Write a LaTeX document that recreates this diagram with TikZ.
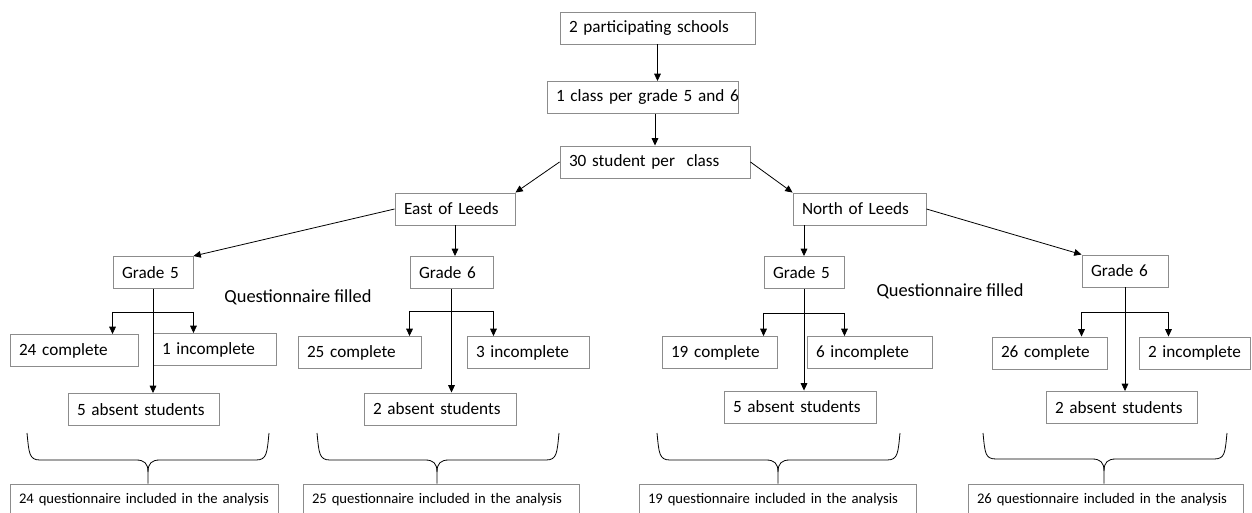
\documentclass[tikz,border=0pt]{standalone}
\usepackage{fontspec}
\setmainfont{Carlito}
\usepackage{tikz}
\usetikzlibrary{arrows.meta}
\definecolor{boxgray}{RGB}{140,140,140}

\begin{document}
\begin{tikzpicture}[x=0.75pt, y=-0.75pt]
        %style
        \tikzset{box/.style = {shape=rectangle, draw=boxgray, line width=0.7pt, inner xsep=6.75pt, inner ysep=0pt, minimum height=24pt, text width=#1*0.75pt-13.5pt, align=left, font=\fontsize{12.9}{15}\selectfont, execute at begin node={\hbox to 0pt\bgroup}, execute at end node={\hss\egroup}}}
        \tikzset{result/.style = {box=#1, font=\fontsize{11}{13}\selectfont}}
        \tikzset{note/.style = {inner sep=0pt, font=\fontsize{13.8}{16}\selectfont}}
        \tikzset{arr/.style = {-{Triangle[length=5.5pt, width=5pt]}, line width=0.6pt}}
        \tikzset{link/.style = {line width=0.6pt}}
        \path[use as bounding box, fill=white] (0,0) rectangle (1252,513);
        % top
        \node[box=195] (schools)  at (657.5,28)  {2 participating schools};
        \node[box=191] (classes)  at (642.5,97.5) {1 class per grade 5 and 6};
        \node[box=190] (students) at (655,162)   {30 student per~ class};
        \node[box=120] (east)     at (455,209)   {East of Leeds};
        \node[box=133] (north)    at (859.5,209) {North of Leeds};
        % grades
        \node[box=80]  (eg5) at (153,272.5)  {Grade 5};
        \node[box=83]  (eg6) at (451.5,272.5) {Grade 6};
        \node[box=80]  (ng5) at (804,272.5)  {Grade 5};
        \node[box=86]  (ng6) at (1125,271)   {Grade 6};
        \node[note]    (qe)  at (298,297)    {Questionnaire filled};
        \node[note]    (qn)  at (950,291)    {Questionnaire filled};
        % answers
        \node[box=128] (e5c) at (74,350.5)    {24 complete};
        \node[box=123] (e5i) at (214.5,349.5) {1 incomplete};
        \node[box=151] (e5a) at (143.5,409.5) {5 absent students};
        \node[box=123] (e6c) at (359.5,352.5) {25 complete};
        \node[box=122] (e6i) at (528,352.5)   {3 incomplete};
        \node[box=152] (e6a) at (440,409)     {2 absent students};
        \node[box=115] (n5c) at (719.5,352.5) {19 complete};
        \node[box=125] (n5i) at (869.5,352.5) {6 incomplete};
        \node[box=152] (n5a) at (800,407)     {5 absent students};
        \node[box=115] (n6c) at (1049.5,353)  {26 complete};
        \node[box=111] (n6i) at (1194.5,353)  {2 incomplete};
        \node[box=151] (n6a) at (1121.5,407.5) {2 absent students};
        % results
        \node[result=268] (e5r) at (144,500)    {24 questionnaire included in the analysis};
        \node[result=276] (e6r) at (441,500)    {25 questionnaire included in the analysis};
        \node[result=277] (n5r) at (777.5,500)  {19 questionnaire included in the analysis};
        \node[result=275] (n6r) at (1105.5,500) {26 questionnaire included in the analysis};
        % arrows
        \draw[arr] (schools.south) -- (schools.south |- classes.north);
        \draw[arr] (classes.south -| students.north) -- (students.north);
        \draw[arr] (students.west) -- (east.north east);
        \draw[arr] (students.east) -- (north.north west);
        \draw[arr] (east.west) -- (eg5.north east);
        \draw[arr] (east.south) -- (east.south |- eg6.north);
        \draw[arr] (ng5.north |- north.south) -- (ng5.north);
        \draw[arr] (north.east) -- (ng6.north west);
        % east grade 5
        \path (eg5.south) ++(0,23) coordinate (eb5);
        \draw[link] (eg5.west |- eb5) -- (eg5.east |- eb5);
        \draw[arr] (eg5.west |- eb5) -- (eg5.west |- e5c.north);
        \draw[arr] (eg5.east |- eb5) -- (eg5.east |- e5i.north);
        \draw[arr] (eg5.south) -- (eg5.south |- e5a.north);
        % east grade 6
        \path (eg6.south) ++(0,22) coordinate (eb6);
        \draw[link] (eg6.west |- eb6) -- (eg6.east |- eb6);
        \draw[arr] (eg6.west |- eb6) -- (eg6.west |- e6c.north);
        \draw[arr] (eg6.east |- eb6) -- (eg6.east |- e6i.north);
        \draw[arr] (eg6.south) -- (eg6.south |- e6a.north);
        % north grade 5
        \path (ng5.south) ++(0,24) coordinate (nb5);
        \draw[link] (ng5.west |- nb5) -- (ng5.east |- nb5);
        \draw[arr] (ng5.west |- nb5) -- (ng5.west |- n5c.north);
        \draw[arr] (ng5.east |- nb5) -- (ng5.east |- n5i.north);
        \draw[arr] (ng5.south) -- (ng5.south |- n5a.north);
        % north grade 6
        \path (ng6.south) ++(0,25) coordinate (nb6);
        \draw[link] (ng6.west |- nb6) -- (ng6.east |- nb6);
        \draw[arr] (ng6.west |- nb6) -- (ng6.west |- n6c.north);
        \draw[arr] (ng6.east |- nb6) -- (ng6.east |- n6i.north);
        \draw[arr] (ng6.south) -- (ng6.south |- n6a.north);
        % braces
        \draw[link] (27,433) .. controls (29,453) and (29,460) .. (40,460) -- (136,460) .. controls (144,460) and (148,463) .. (148,472) -- (148,472 |- e5r.north);
        \draw[link] (269,433) .. controls (267,453) and (267,460) .. (256,460) -- (160,460) .. controls (152,460) and (148,463) .. (148,472);
        \draw[link] (317,433) .. controls (319,453) and (319,460) .. (330,460) -- (425,460) .. controls (433,460) and (437,463) .. (437,472) -- (437,472 |- e6r.north);
        \draw[link] (559,433) .. controls (557,453) and (557,460) .. (546,460) -- (449,460) .. controls (441,460) and (437,463) .. (437,472);
        \draw[link] (657,433) .. controls (659,453) and (659,460) .. (670,460) -- (766,460) .. controls (774,460) and (778,463) .. (778,472) -- (778,472 |- n5r.north);
        \draw[link] (900,433) .. controls (898,453) and (898,460) .. (887,460) -- (790,460) .. controls (782,460) and (778,463) .. (778,472);
        \draw[link] (983,433) .. controls (985,453) and (985,459) .. (996,459) -- (1092,459) .. controls (1100,459) and (1104,462) .. (1104,471) -- (1104,471 |- n6r.north);
        \draw[link] (1227,433) .. controls (1225,453) and (1225,459) .. (1214,459) -- (1116,459) .. controls (1108,459) and (1104,462) .. (1104,471);
\end{tikzpicture}
\end{document}
